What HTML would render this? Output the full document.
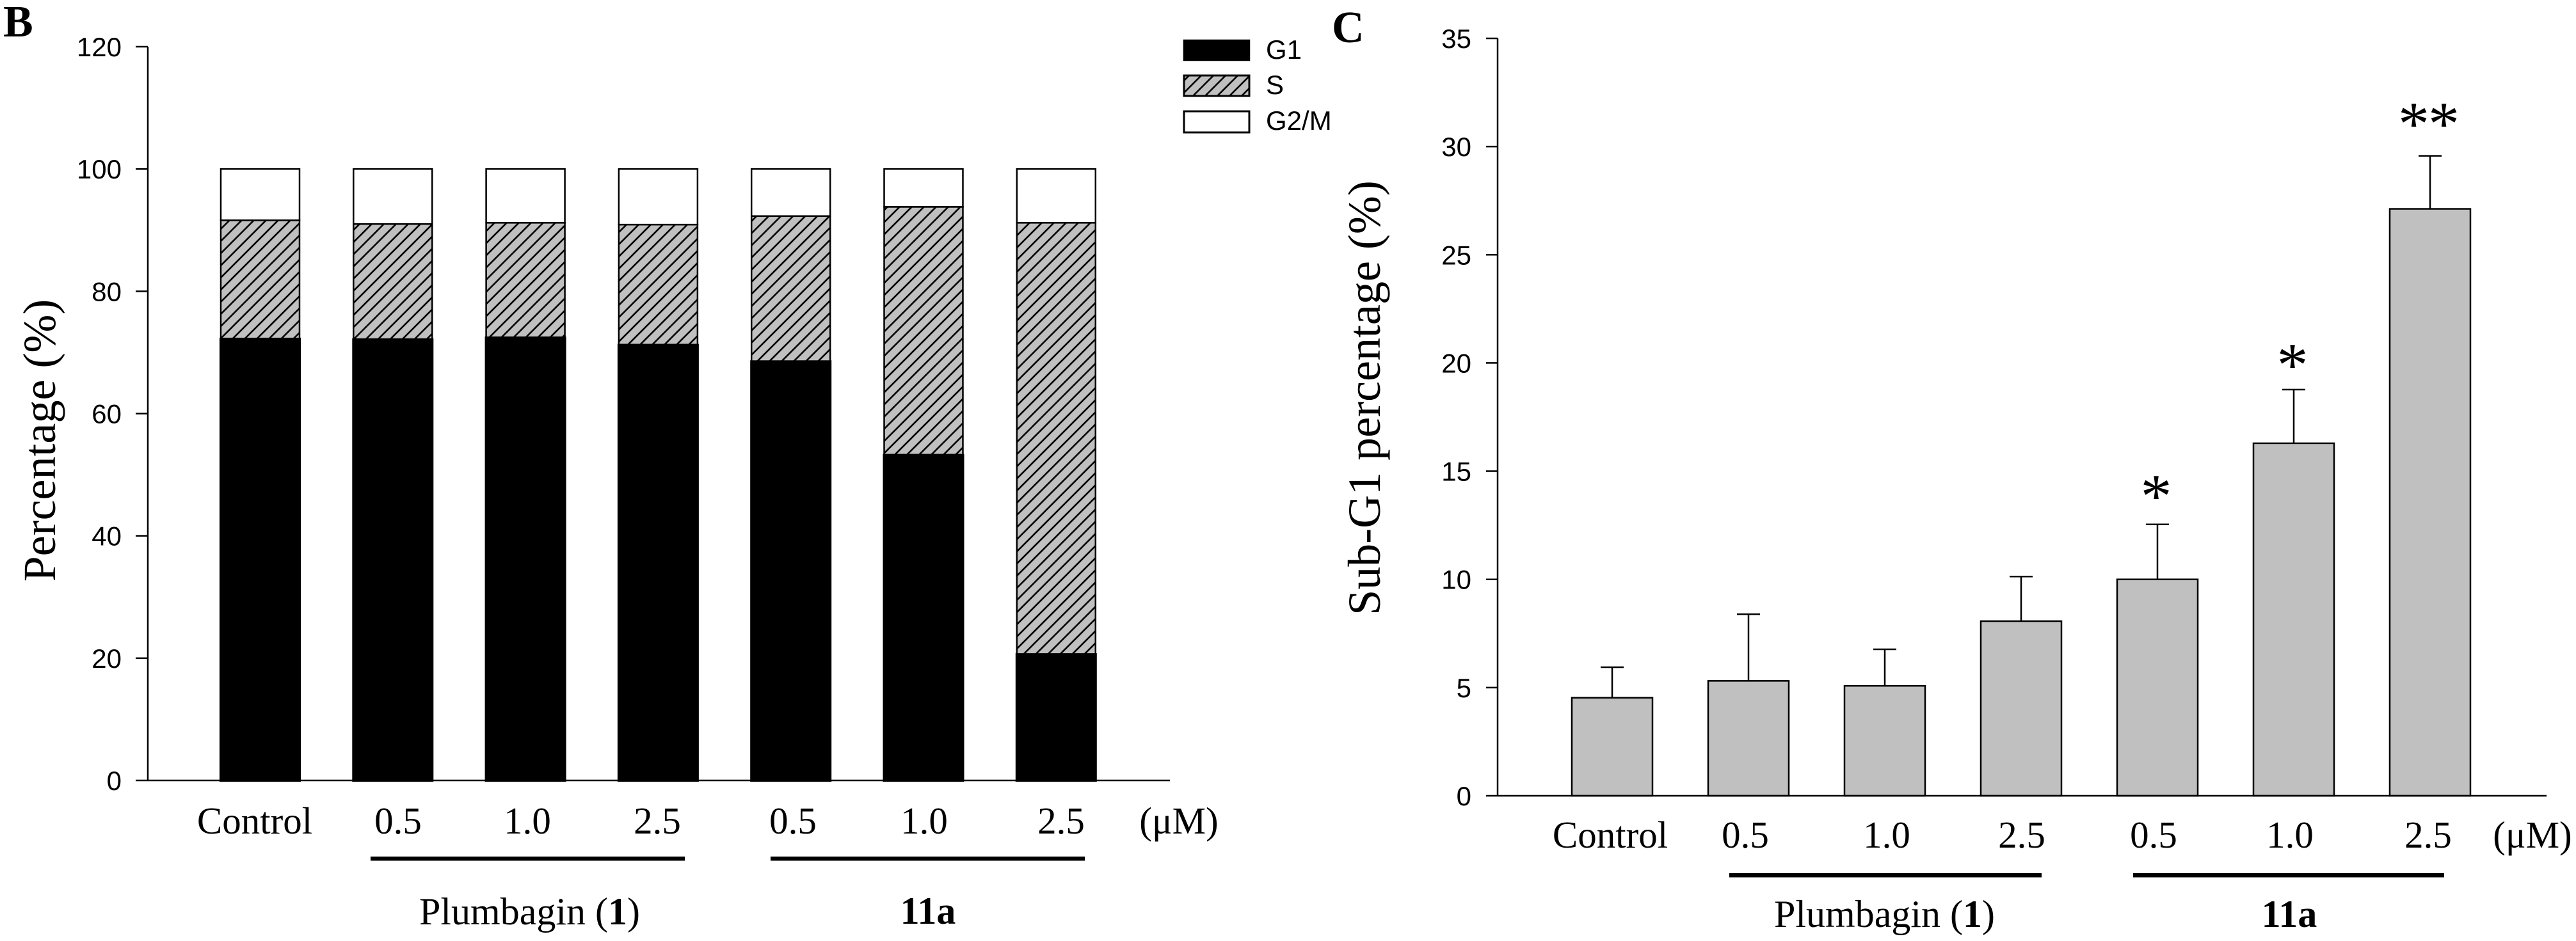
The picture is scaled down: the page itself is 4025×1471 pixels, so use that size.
<!DOCTYPE html>
<html lang="en">
<head>
<meta charset="utf-8">
<title>Cell cycle distribution and sub-G1 percentage</title>
<style>
html,body{margin:0;padding:0;background:#fff;}
svg{display:block;}
.serif{font-family:"Liberation Serif",serif;fill:#000;}
.sans{font-family:"Liberation Sans",sans-serif;fill:#000;}
.cat{font-size:59px;text-anchor:middle;}
.grp{font-size:60px;}
.tick{font-size:42px;text-anchor:end;}
.ttl{font-size:72px;text-anchor:middle;}
.leg{font-size:42px;}
.panel{font-size:70px;font-weight:bold;}
.star{font-size:98px;text-anchor:middle;}
</style>
</head>
<body>
<svg id="fig" xmlns="http://www.w3.org/2000/svg" width="4025" height="1471" viewBox="0 0 4025 1471">
  <defs>
    <pattern id="hatch" patternUnits="userSpaceOnUse" width="19" height="19">
      <rect width="19" height="19" fill="#c0c0c0"/>
      <path d="M-3,22 L22,-3 M-3,3 L3,-3 M16,22 L22,16" stroke="#000" stroke-width="2.6" fill="none"/>
    </pattern>
  </defs>
  <rect width="4025" height="1471" fill="#fff"/>

  <text class="serif panel" x="5" y="57">B</text>
  <text class="serif panel" x="2081" y="66">C</text>

  <g id="chartB"></g>
  <g id="chartC"></g>

  <text class="serif ttl" transform="translate(86,688.5) rotate(-90)">Percentage (%)</text>
  <text class="serif ttl" transform="translate(2156,622) rotate(-90)">Sub-G1 percentage (%)</text>

  <g>
    <rect x="1850" y="63" width="102" height="31" fill="#000" stroke="#000" stroke-width="2.5"/>
    <text class="sans leg" x="1978" y="92">G1</text>
    <rect x="1850" y="118" width="102" height="32" fill="url(#hatch)" stroke="#000" stroke-width="3"/>
    <text class="sans leg" x="1978" y="147">S</text>
    <rect x="1850" y="174" width="102" height="33" fill="#fff" stroke="#000" stroke-width="3"/>
    <text class="sans leg" x="1978" y="203">G2/M</text>
  </g>

  <g>
    <text class="serif cat" x="398" y="1303">Control</text>
    <text class="serif cat" x="622" y="1303">0.5</text>
    <text class="serif cat" x="824" y="1303">1.0</text>
    <text class="serif cat" x="1027" y="1303">2.5</text>
    <text class="serif cat" x="1239" y="1303">0.5</text>
    <text class="serif cat" x="1444" y="1303">1.0</text>
    <text class="serif cat" x="1658" y="1303">2.5</text>
    <text class="serif cat" x="1842" y="1303">(μM)</text>
    <rect x="579" y="1339" width="491" height="6.5" fill="#000"/>
    <rect x="1204" y="1339" width="491" height="6.5" fill="#000"/>
    <text class="serif grp" x="655" y="1445">Plumbagin (<tspan font-weight="bold">1</tspan>)</text>
    <text class="serif grp" x="1450" y="1444" text-anchor="middle" font-weight="bold">11a</text>
  </g>

  <g>
    <text class="serif cat" x="2516" y="1325">Control</text>
    <text class="serif cat" x="2727" y="1325">0.5</text>
    <text class="serif cat" x="2948" y="1325">1.0</text>
    <text class="serif cat" x="3159" y="1325">2.5</text>
    <text class="serif cat" x="3365" y="1325">0.5</text>
    <text class="serif cat" x="3578" y="1325">1.0</text>
    <text class="serif cat" x="3794" y="1325">2.5</text>
    <text class="serif cat" x="3957" y="1325">(μM)</text>
    <rect x="2702" y="1365" width="488" height="6.5" fill="#000"/>
    <rect x="3333" y="1365" width="486" height="6.5" fill="#000"/>
    <text class="serif grp" x="2772" y="1449">Plumbagin (<tspan font-weight="bold">1</tspan>)</text>
    <text class="serif grp" x="3577" y="1449" text-anchor="middle" font-weight="bold">11a</text>
  </g>
</svg>
<script>
var categories = ['control', 'plumbagin-0-5', 'plumbagin-1-0', 'plumbagin-2-5', '11a-0-5', '11a-1-0', '11a-2-5'];

var g1Values = [72.2, 72.1, 72.4, 71.2, 68.5, 53.2, 20.6];
var sValues = [19.4, 18.9, 18.8, 19.7, 23.8, 40.6, 70.6];
var g2mValues = [8.4, 9.0, 8.8, 9.1, 7.7, 6.2, 8.8];
var stackedTicks = [0, 20, 40, 60, 80, 100, 120];

var subG1Values = [4.53, 5.31, 5.08, 8.07, 10.0, 16.29, 27.12];
var subG1Errors = [1.41, 3.08, 1.69, 2.06, 2.54, 2.48, 2.45];
var subG1Stars = ['', '', '', '', '*', '*', '**'];
var subG1StarLevels = [0, 0, 0, 0, 13.66, 19.72, 30.86];
var subG1Ticks = [0, 5, 10, 15, 20, 25, 30, 35];

var NS = 'http://www.w3.org/2000/svg';
var chartB = document.getElementById('chartB');
var chartC = document.getElementById('chartC');

function make(parent, tag, props) {
  var el = document.createElementNS(NS, tag);
  for (var k in props) { el.setAttribute(k, props[k]); }
  parent.appendChild(el);
  return el;
}

/* axis functions */
function yB(v) { return 1220 - 9.558 * v; }
function xB(i) { return 406.5 + 207.3 * i; }
function yC(v) { return 1244 - 33.83 * v; }
function xC(i) { return 2519 + 213 * i; }

/* ---------- Panel B ---------- */
var halfB = 61.5;
categories.forEach(function (cat, i) {
  var base = 0;
  var g1Top = base + g1Values[i];
  var sTop = g1Top + sValues[i];
  var g2Top = sTop + g2mValues[i];

  var g2 = make(chartB, 'rect', {x: xB(i) - halfB, width: halfB * 2, y: yB(g2Top), height: yB(sTop) - yB(g2Top), fill: '#fff', stroke: '#000', 'stroke-width': 2.5});
  
  

  var s = make(chartB, 'rect', {x: xB(i) - halfB, width: halfB * 2, y: yB(sTop), height: yB(g1Top) - yB(sTop), fill: 'url(#hatch)', stroke: '#000', 'stroke-width': 2.5});
  
  

  var g = make(chartB, 'rect', {x: xB(i) - halfB, width: halfB * 2, y: yB(g1Top), height: yB(base) - yB(g1Top), fill: '#000', stroke: '#000', 'stroke-width': 4});
  
  
});

var yAxisB = make(chartB, 'line', {x1: 231, x2: 231, y1: yB(120), y2: yB(0), stroke: '#000', 'stroke-width': 2.5});



var xAxisB = make(chartB, 'line', {x1: 231, x2: 1828, y1: yB(0), y2: yB(0), stroke: '#000', 'stroke-width': 2.5});



stackedTicks.forEach(function (t) {
  var mark = make(chartB, 'line', {x1: 212, x2: 231, y1: yB(t), y2: yB(t), stroke: '#000', 'stroke-width': 2.5});
  
  
  var label = make(chartB, 'text', {x: 190, y: yB(t) + 15, 'class': 'sans tick'});
  label.textContent = String(t);
  
  
});

/* ---------- Panel C ---------- */
var halfC = 63;
var capC = 18;
categories.forEach(function (cat, i) {
  var top = subG1Values[i];
  var errTop = top + subG1Errors[i];

  var stem = make(chartC, 'line', {x1: xC(i), x2: xC(i), y1: yC(top), y2: yC(errTop), stroke: '#000', 'stroke-width': 2.5});
  
  

  var cap = make(chartC, 'line', {x1: xC(i) - capC, x2: xC(i) + capC, y1: yC(errTop), y2: yC(errTop), stroke: '#000', 'stroke-width': 2.5});
  
  

  var bar = make(chartC, 'rect', {x: xC(i) - halfC, width: halfC * 2, y: yC(top), height: yC(0) - yC(top), fill: '#c0c0c0', stroke: '#000', 'stroke-width': 2.5});
  
  

  if (subG1Stars[i]) {
    for (var n = 0; n < subG1Stars[i].length; n++) {
      var offset = (n - (subG1Stars[i].length - 1) / 2) * 47;
      var star = make(chartC, 'text', {x: xC(i) + offset - 2, y: yC(subG1StarLevels[i]) + 26, 'class': 'serif star'});
      star.textContent = '*';
      
      
    }
  }
});

var yAxisC = make(chartC, 'line', {x1: 2340, x2: 2340, y1: yC(35), y2: yC(0), stroke: '#000', 'stroke-width': 2.5});



var xAxisC = make(chartC, 'line', {x1: 2340, x2: 3979, y1: yC(0), y2: yC(0), stroke: '#000', 'stroke-width': 2.5});



subG1Ticks.forEach(function (t) {
  var mark = make(chartC, 'line', {x1: 2322, x2: 2340, y1: yC(t), y2: yC(t), stroke: '#000', 'stroke-width': 2.5});
  
  
  var label = make(chartC, 'text', {x: 2299, y: yC(t) + 15, 'class': 'sans tick'});
  label.textContent = String(t);
  
  
});
</script>
</body>
</html>
